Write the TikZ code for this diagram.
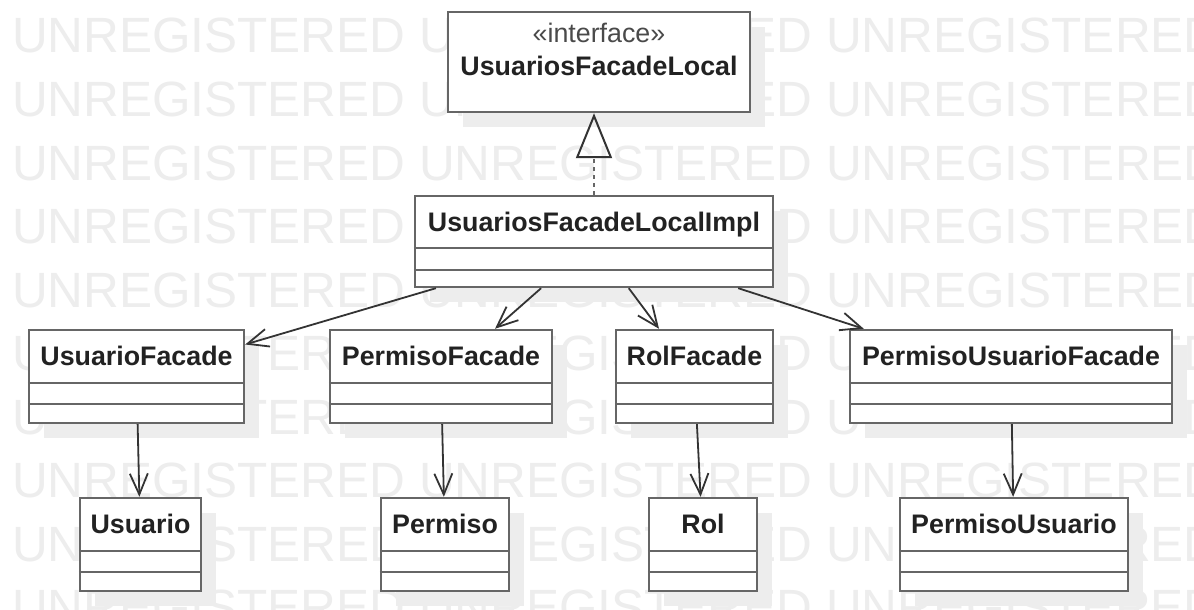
\documentclass[tikz,border=0pt]{standalone}
\usepackage{fontspec}
\setmainfont{Liberation Sans}
\usetikzlibrary{arrows.meta}

\definecolor{wmgray}{HTML}{EDEDED}
\definecolor{boxline}{HTML}{666666}
\definecolor{ink}{HTML}{222222}
\definecolor{wire}{HTML}{333333}
\definecolor{stereo}{HTML}{4A4A4A}

\tikzset{
  classbox/.style={draw=boxline, line width=2.4pt, fill=white, rectangle, inner sep=0pt},
  sepline/.style={draw=boxline, line width=2.2pt},
  dropshade/.style={fill=wmgray},
  titletext/.style={font=\fontsize{26.8}{30}\selectfont\bfseries, text=ink, inner sep=0pt},
  stereotext/.style={font=\fontsize{26.8}{30}\selectfont, text=stereo, inner sep=0pt},
  wmtext/.style={font=\fontsize{49.5}{55}\selectfont, text=wmgray, inner sep=0pt},
  assoc/.style={draw=wire, line width=1.8pt,
    -{Straight Barb[length=21pt,width=18pt,line width=1.8pt]}},
  realize/.style={draw=boxline, line width=2.6pt, dash pattern=on 4pt off 4pt,
    -{Triangle[open,length=45pt,width=36pt,line width=2pt,color=wire]}},
}

% class box: name, left, top, right, bottom, separator 1, separator 2, title
\newcommand{\umlclass}[8]{%
  \fill[dropshade] ({#2+15},{-#3-15}) rectangle ({#4+15},{-#5-15});
  \node[classbox, minimum width={#4-#2}, minimum height={#5-#3}]
    (#1) at ({(#2+#4)/2},{-(#3+#5)/2}) {};
  \node[titletext, anchor=base] (#1-t) at ({(#2+#4)/2},{-#3-35}) {#8};
  \draw[sepline] (#1.west |- 0,-#6) -- (#1.east |- 0,-#6);
  \draw[sepline] (#1.west |- 0,-#7) -- (#1.east |- 0,-#7);
}

\begin{document}
\begin{tikzpicture}[x=1pt, y=1pt]
  \useasboundingbox (0,0) rectangle (1194,-610);
  \fill[white] (0,0) rectangle (1194,-610);

  % watermark rows
  \begin{scope}
    \clip (0,0) rectangle (1194,-610);
    \foreach \k in {0,...,9} {
      \node[wmtext, anchor=base west] (wm\k) at (12,{-53-63.5*\k})
        {UNREGISTERED UNREGISTERED UNREGISTERED};
    }
  \end{scope}

  % interface
  \fill[dropshade] (463,-27) rectangle (765,-127);
  \node[classbox, minimum width=302, minimum height=100] (iface) at (599,-62) {};
  \node[stereotext, anchor=base] (iface-s) at (599,-43) {«interface»};
  \node[titletext, anchor=base] (iface-t) at (599,-75) {UsuariosFacadeLocal};

  % classes
  \umlclass{impl}{415}{196}{773}{287}{248}{270}{UsuariosFacadeLocalImpl}
  \umlclass{uf}{29}{330}{244}{423}{383}{404}{UsuarioFacade}
  \umlclass{pf}{330}{330}{552}{423}{383}{404}{PermisoFacade}
  \umlclass{rf}{616}{330}{773}{423}{383}{404}{RolFacade}
  \umlclass{puf}{850}{330}{1172}{423}{383}{404}{PermisoUsuarioFacade}
  \umlclass{u}{80}{498}{201}{591}{551}{572}{Usuario}
  \umlclass{p}{381}{498}{509}{591}{551}{572}{Permiso}
  \umlclass{r}{649}{498}{757}{591}{551}{572}{Rol}
  \umlclass{pu}{900}{498}{1128}{591}{551}{572}{PermisoUsuario}

  % realization
  \draw[realize] (impl.north) -- (impl.north |- iface.south);

  % associations
  \draw[assoc] (impl) -- (uf);
  \draw[assoc] (impl) -- (pf);
  \draw[assoc] (impl) -- (rf);
  \draw[assoc] (impl) -- (puf);
  \draw[assoc] (uf) -- (u);
  \draw[assoc] (pf) -- (p);
  \draw[assoc] (rf) -- (r);
  \draw[assoc] (puf) -- (pu);
\end{tikzpicture}
\end{document}
